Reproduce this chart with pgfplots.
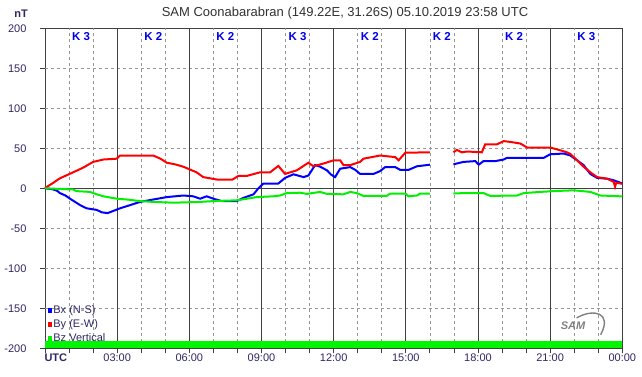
\documentclass[border=0pt]{standalone}
\usepackage{fontspec}
\setmainfont{Liberation Sans}
\usepackage{pgfplots}
\pgfplotsset{compat=1.18}
\definecolor{lab}{RGB}{45,40,100}
\definecolor{titlegray}{RGB}{50,50,50}
\definecolor{gdark}{RGB}{64,64,64}
\definecolor{glight}{RGB}{150,150,150}
\definecolor{kblue}{RGB}{0,0,235}
\definecolor{bxc}{RGB}{0,0,255}
\definecolor{byc}{RGB}{255,0,0}
\definecolor{bzc}{RGB}{0,240,0}
\definecolor{barc}{RGB}{0,245,0}
\begin{document}
\begin{tikzpicture}
\path[use as bounding box] (0pt,0pt) rectangle (642pt,376pt);
\node[font=\fontsize{13}{14}\selectfont, text=titlegray] at (345pt,363pt) {SAM Coonabarabran (149.22E, 31.26S) 05.10.2019 23:58 UTC};
\node[font=\bfseries\fontsize{11}{12}\selectfont, text=lab] at (21pt,362pt) {nT};
\begin{axis}[
  at={(45pt,27.7pt)}, anchor=south west,
  scale only axis, width=577.3pt, height=320pt,
  xmin=0, xmax=24, ymin=-200, ymax=200,
  axis line style={color=gdark, line width=0.8pt},
  xtick={0,3,...,24},
  xticklabels={\makebox[0pt][l]{\hspace{-0.5pt}\bfseries UTC},03:00,06:00,09:00,12:00,15:00,18:00,21:00,00:00},
  minor xtick={1,2,4,5,7,8,10,11,13,14,16,17,19,20,22,23},
  ytick={-200,-150,...,200},
  tick align=outside, xtick pos=bottom, ytick pos=left,
  major tick length=5pt, minor tick length=5pt,
  tick style={color=gdark, line width=0.8pt},
  ticklabel style={font=\fontsize{11}{12}\selectfont, text=lab},
  yticklabel style={xshift=-10pt},
  xticklabel style={yshift=3pt},
  /pgf/number format/assume math mode=true,
  unbounded coords=jump,
  legend style={at={(0.004,0.011)}, anchor=south west, draw=none, fill=none,
    inner sep=0pt, font=\fontsize{11}{12}\selectfont, text=lab, row sep=1.5pt,
    nodes={inner sep=1.5pt}},
  legend cell align=left,
  legend image code/.code={\fill (1pt,-1.2pt) rectangle (3.4pt,1.2pt);},
  clip=false,
]
% grid
\pgfplotsinvokeforeach{1,2,4,5,7,8,10,11,13,14,16,17,19,20,22,23}{
  \draw[glight, line width=0.7pt, dash pattern=on 3pt off 3pt] (axis cs:#1,-200) -- (axis cs:#1,200);
}
\pgfplotsinvokeforeach{-150,-100,-50,50,100,150}{
  \draw[glight, line width=0.7pt, dash pattern=on 3pt off 3pt] (axis cs:0,#1) -- (axis cs:24,#1);
}
\pgfplotsinvokeforeach{3,6,9,12,15,18,21}{
  \draw[gdark, line width=0.8pt] (axis cs:#1,-200) -- (axis cs:#1,200);
}
\draw[gdark, line width=0.8pt] (axis cs:0,0) -- (axis cs:24,0);
% bottom bar
\addplot[fill=barc, draw=none, forget plot] coordinates {(0,-200)(24,-200)(24,-191)(0,-191)} -- cycle;
% K indices
\node[font=\bfseries\fontsize{11.5}{12}\selectfont, text=kblue] at (axis cs:1.5,190) {K 3};
\node[font=\bfseries\fontsize{11.5}{12}\selectfont, text=kblue] at (axis cs:4.5,190) {K 2};
\node[font=\bfseries\fontsize{11.5}{12}\selectfont, text=kblue] at (axis cs:7.5,190) {K 2};
\node[font=\bfseries\fontsize{11.5}{12}\selectfont, text=kblue] at (axis cs:10.5,190) {K 3};
\node[font=\bfseries\fontsize{11.5}{12}\selectfont, text=kblue] at (axis cs:13.5,190) {K 2};
\node[font=\bfseries\fontsize{11.5}{12}\selectfont, text=kblue] at (axis cs:16.5,190) {K 2};
\node[font=\bfseries\fontsize{11.5}{12}\selectfont, text=kblue] at (axis cs:19.5,190) {K 2};
\node[font=\bfseries\fontsize{11.5}{12}\selectfont, text=kblue] at (axis cs:22.5,190) {K 3};
% SAM logo
\node[font=\bfseries\itshape\fontsize{11}{12}\selectfont, text=gray] at (axis cs:21.95,-172) {SAM};
\draw[gray, line width=1.4pt] (axis cs:22.1,-162) .. controls (axis cs:22.8,-150) and (axis cs:23.6,-155) .. (axis cs:23.1,-183);
% data
\addplot[bxc, line width=2pt] coordinates {
(0,0)(0.3,-1)(0.5,-3)(0.62,-6)(0.85,-9)(1.04,-13)(1.25,-17)(1.46,-21)(1.73,-25)(2.15,-27)(2.36,-30)(2.6,-31)(2.78,-29)(3.12,-25)(3.54,-21)(3.95,-17)(4.5,-14)(5.06,-11)(5.75,-9)(6.16,-10)(6.45,-13)(6.72,-10)(7.0,-13)(7.35,-16)(7.97,-16)(8.25,-12)(8.67,-7.5)(8.87,0)(9.08,6)(9.7,6)(9.98,13)(10.33,17.5)(10.75,14)(10.95,16)(11.23,29)(11.44,27)(11.72,22.5)(11.9,17)(12.06,14)(12.27,24.5)(12.69,26.5)(12.9,23)(13.1,18)(13.66,18)(13.93,21.5)(14.14,26.5)(14.56,26.5)(14.77,23)(15.11,23)(15.46,27.5)(16.0,29.5)(16.5,nan)(16.98,30)(17.4,33)(17.89,34)(18.03,29.5)(18.23,34)(18.72,34)(19.07,36)(19.2,38)(20.73,38)(21.0,42.5)(21.56,43.5)(21.84,41)(22.12,35)(22.39,29)(22.67,18)(22.95,13)(23.37,12)(23.64,10)(23.92,7)(24,6)
};
\addlegendentry{Bx (N-S)}
\addplot[byc, line width=2pt] coordinates {
(0,0)(0.07,1.7)(0.3,6)(0.62,12.5)(1.17,20)(1.6,26)(2.0,33)(2.43,36)(2.98,37)(3.12,41)(4.5,41)(4.8,37)(5.06,32)(5.4,30)(5.75,27)(6.3,20)(6.58,14)(7.14,11)(7.8,11)(8.04,15.5)(8.39,15.5)(8.94,20)(9.36,20)(9.7,28)(9.98,18)(10.47,22.5)(10.95,32)(11.16,27.5)(11.58,31)(12.0,35)(12.27,35)(12.41,29)(12.69,29)(13.1,33)(13.24,37)(13.93,41)(14.56,39)(14.7,35)(14.98,44.5)(16.0,45)(16.5,nan)(16.98,45)(17.12,48)(17.33,45)(17.55,46)(18.16,45)(18.3,55)(18.79,55)(19.07,59)(19.34,58)(19.76,56)(20.04,51)(21.0,51)(21.42,47.5)(21.7,45)(21.84,43)(22.12,35)(22.39,27)(22.67,20)(22.95,14)(23.37,12)(23.64,8)(23.7,2)(23.75,7)(23.92,6)(24,6)
};
\addlegendentry{By (E-W)}
\addplot[bzc, line width=2pt] coordinates {
(0,0)(1.17,-1.5)(1.3,-3.5)(1.87,-4.5)(2.15,-7.5)(2.43,-10)(2.98,-13)(3.4,-14)(3.95,-16)(4.5,-17)(5.34,-18)(6.45,-17)(7.0,-16)(7.97,-15)(8.39,-13)(8.8,-11)(9.5,-10)(9.77,-9)(10.05,-6)(10.6,-5.5)(10.89,-7)(11.44,-4.5)(11.72,-7)(12.41,-7.5)(12.69,-4.5)(12.96,-6)(13.24,-9.5)(14.2,-9.5)(14.35,-6.5)(14.98,-6.5)(15.11,-10)(15.46,-9)(15.6,-6.5)(16.0,-6.5)(16.5,nan)(16.98,-6.5)(17.4,-6)(18.23,-6)(18.51,-9.5)(19.62,-9)(19.9,-6)(20.6,-4.5)(21.15,-3.5)(21.98,-2.5)(22.67,-4.5)(23.09,-9)(23.92,-10)(24,-10)
};
\addlegendentry{Bz Vertical}
\end{axis}
\end{tikzpicture}
\end{document}
